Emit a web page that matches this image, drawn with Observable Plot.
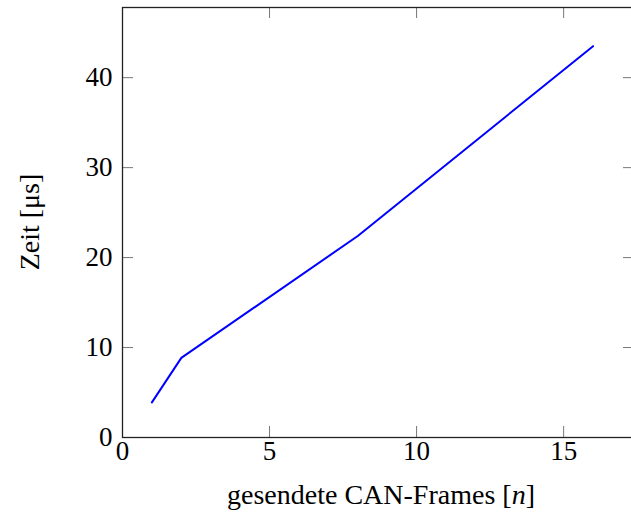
<!DOCTYPE html>
<html>
<head>
<meta charset="utf-8">
<script src="https://cdn.jsdelivr.net/npm/d3@7"></script>
<script src="https://cdn.jsdelivr.net/npm/@observablehq/plot@0.6"></script>
<style>
  html, body { margin: 0; padding: 0; background: #fff; overflow: hidden; }
  svg { display: block; max-width: none !important; }
</style>
</head>
<body>
<div id="chart"></div>
<script>
const frames = [1, 2, 8, 16];
const zeit = [3.9, 8.85, 22.4, 43.5];
const xTicks = [0, 5, 10, 15];
const yTicks = [0, 10, 20, 30, 40];
const xLabel = "gesendete CAN-Frames [";
const xLabelVar = "n";
const yLabel = "Zeit [μs]";

const data = frames.map((f, i) => ({frames: f, zeit: zeit[i]}));

const W = 636, H = 517;
const mL = 122, mR = 2, mT = 7, mB = 80;
const innerW = W - mL - mR, innerH = H - mT - mB;
const tickLen = 11;
const font = "'Liberation Serif', 'DejaVu Serif', serif";

const plot = Plot.plot({
  width: W,
  height: H,
  marginLeft: mL,
  marginRight: mR,
  marginTop: mT,
  marginBottom: mB,
  style: {fontFamily: font, fontSize: "27px", color: "#000", background: "#fff", maxWidth: "none"},
  x: {domain: [0, 17.41]},
  y: {domain: [0, 47.8]},
  marks: [
    Plot.tickX(xTicks, {x: d => d, insetTop: innerH - tickLen, stroke: "#777", strokeWidth: 1}),
    Plot.tickX(xTicks, {x: d => d, insetBottom: innerH - tickLen, stroke: "#777", strokeWidth: 1}),
    Plot.tickY(yTicks, {y: d => d, insetRight: innerW - tickLen, stroke: "#777", strokeWidth: 1}),
    Plot.tickY(yTicks, {y: d => d, insetLeft: innerW - tickLen, stroke: "#777", strokeWidth: 1}),
    Plot.axisX(xTicks, {tickSize: 0, tickPadding: 3, fontSize: 27, label: null}),
    Plot.axisY(yTicks, {tickSize: 0, tickPadding: 10, fontSize: 27, label: null}),
    Plot.line(data, {x: "frames", y: "zeit", stroke: "#0000ff", strokeWidth: 2}),
    Plot.frame({stroke: "#222", strokeWidth: 1.3})
  ]
});

const svg = d3.select(plot);
svg.style("overflow", "visible").style("max-width", "none");
const xl = svg.append("text")
  .attr("x", 381).attr("y", 504)
  .attr("text-anchor", "middle")
  .attr("font-family", font).attr("font-size", 28).attr("fill", "#000");
xl.append("tspan").text(xLabel);
xl.append("tspan").attr("font-style", "italic").text(xLabelVar);
xl.append("tspan").text("]");

svg.append("text")
  .attr("transform", "translate(39,222) rotate(-90)")
  .attr("text-anchor", "middle")
  .attr("font-family", font).attr("font-size", 28).attr("fill", "#000")
  .text(yLabel);

document.getElementById("chart").append(plot);
</script>
</body>
</html>
